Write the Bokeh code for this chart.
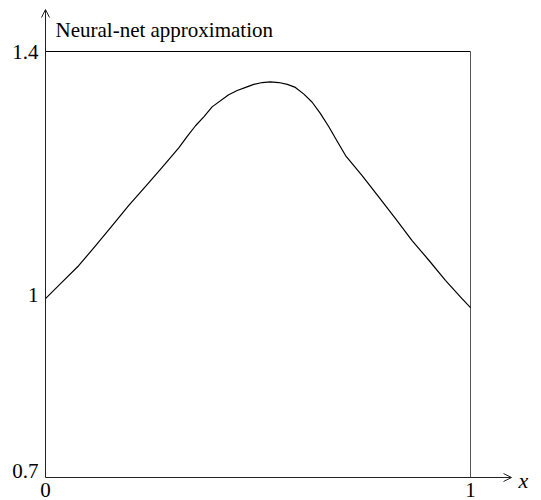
from bokeh.plotting import figure
from bokeh.models import ColumnDataSource, LabelSet, Label, Arrow, OpenHead, Range1d
from bokeh.embed import file_html
from bokeh.resources import INLINE

# Neural-net approximation sampled along x in [0, 1]
x_vals = [0.0, 0.039, 0.078, 0.118, 0.157, 0.196, 0.235, 0.275, 0.314, 0.333,
          0.353, 0.373, 0.392, 0.431, 0.451, 0.471, 0.490, 0.510, 0.529, 0.549,
          0.569, 0.588, 0.608, 0.627, 0.647, 0.667, 0.686, 0.706, 0.745, 0.784,
          0.824, 0.863, 0.902, 0.941, 0.980, 1.0]
y_vals = [0.994, 1.021, 1.048, 1.081, 1.114, 1.147, 1.178, 1.210, 1.242, 1.260,
          1.278, 1.293, 1.309, 1.329, 1.336, 1.341, 1.346, 1.349, 1.350, 1.349,
          1.346, 1.341, 1.330, 1.317, 1.298, 1.276, 1.253, 1.229, 1.196, 1.161,
          1.125, 1.089, 1.057, 1.024, 0.994, 0.979]

x_ticks = [0, 1]
x_tick_labels = ["0", "1"]
y_ticks = [1.0, 1.4]
y_tick_labels = ["1", "1.4"]
y_min, y_max = 0.7, 1.4
x_min, x_max = 0.0, 1.0

W, H = 541, 500
# pixel positions of the axes corner and the box's far edges
axis_x_px, box_right_px = 45, 470
axis_y_px, box_top_px = 477, 51
xs = (box_right_px - axis_x_px) / (x_max - x_min)
ys = (axis_y_px - box_top_px) / (y_max - y_min)

p = figure(width=W, height=H, output_backend="svg", toolbar_location=None,
           x_axis_type=None, y_axis_type=None,
           min_border_left=0, min_border_right=0,
           min_border_top=0, min_border_bottom=0)
p.x_range = Range1d(x_min - axis_x_px / xs, x_min + (W - axis_x_px) / xs)
p.y_range = Range1d(y_min - (H - axis_y_px) / ys, y_min + axis_y_px / ys)
p.outline_line_color = None
p.grid.visible = False
p.background_fill_color = "white"
p.border_fill_color = "white"

# box: top edge and right edge
p.segment(x0=[x_min], y0=[y_max], x1=[x_max], y1=[y_max], line_color="black", line_width=1)
p.segment(x0=[x_max], y0=[y_min], x1=[x_max], y1=[y_max], line_color="#555555", line_width=1)

# axes with arrow heads
x_tip = x_min + (511 - axis_x_px) / xs
y_tip = y_min + (axis_y_px - 9) / ys
p.add_layout(Arrow(end=OpenHead(size=8, line_width=1, line_color="#222222"),
                   x_start=x_min, y_start=y_min, x_end=x_tip, y_end=y_min,
                   line_color="#222222", line_width=1))
p.add_layout(Arrow(end=OpenHead(size=8, line_width=1, line_color="#222222"),
                   x_start=x_min, y_start=y_min, x_end=x_min, y_end=y_tip,
                   line_color="#222222", line_width=1))

# curve
p.line(x_vals, y_vals, line_color="black", line_width=1.2, line_join="round")

font = "Liberation Serif"
fsize = "21px"

ysrc = ColumnDataSource(dict(x=[x_min] * len(y_ticks), y=y_ticks, t=y_tick_labels))
p.add_layout(LabelSet(x="x", y="y", text="t", source=ysrc, x_offset=-7, y_offset=0,
                      text_align="right", text_baseline="middle",
                      text_font=font, text_font_size=fsize, text_color="black"))
p.add_layout(Label(x=x_min, y=y_min, text="0.7", x_offset=-7, y_offset=0,
                   text_align="right", text_baseline="bottom",
                   text_font=font, text_font_size=fsize, text_color="black"))

xsrc = ColumnDataSource(dict(x=x_ticks, y=[y_min] * len(x_ticks), t=x_tick_labels))
p.add_layout(LabelSet(x="x", y="y", text="t", source=xsrc, y_offset=-5,
                      text_align="center", text_baseline="top",
                      text_font=font, text_font_size=fsize, text_color="black"))

p.add_layout(Label(x=x_min, y=y_tip, text="Neural-net approximation", x_offset=10, y_offset=-20,
                   text_align="left", text_baseline="alphabetic",
                   text_font=font, text_font_size=fsize, text_color="black"))
p.add_layout(Label(x=x_tip, y=y_min, text="x", x_offset=7, y_offset=-3,
                   text_align="left", text_baseline="middle", text_font_style="italic",
                   text_font=font, text_font_size="22px", text_color="black"))

open("out.html", "w").write(file_html(p, INLINE))
